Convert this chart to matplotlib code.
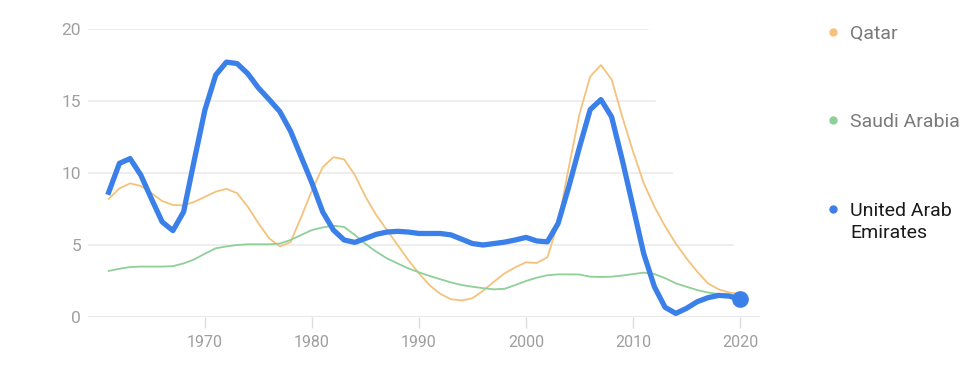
import matplotlib
matplotlib.use("Agg")
import matplotlib.pyplot as plt
from matplotlib.lines import Line2D

plt.rcParams['font.family'] = ['Roboto', 'DejaVu Sans']

years = list(range(1961, 2021))

qatar = [8.2, 8.93, 9.28, 9.1, 8.6, 8.05, 7.78, 7.75, 8.0, 8.35,
         8.7, 8.9, 8.6, 7.66, 6.5, 5.46, 4.9, 5.2, 6.96, 8.8,
         10.4, 11.1, 10.95, 9.86, 8.35, 7.08, 6.04, 5.0, 3.96, 3.03,
         2.2, 1.6, 1.23, 1.15, 1.3, 1.83, 2.45, 3.03, 3.45, 3.8,
         3.75, 4.15, 6.5, 10.4, 14.1, 16.7, 17.5, 16.5, 13.9, 11.5,
         9.3, 7.66, 6.3, 5.1, 4.07, 3.15, 2.34, 1.92, 1.7, 1.6]

saudi = [3.2, 3.35, 3.47, 3.5, 3.5, 3.5, 3.53, 3.72, 4.0, 4.4,
         4.77, 4.9, 5.0, 5.05, 5.05, 5.05, 5.1, 5.35, 5.7, 6.04,
         6.22, 6.34, 6.25, 5.7, 5.07, 4.54, 4.07, 3.72, 3.38, 3.1,
         2.85, 2.62, 2.4, 2.22, 2.1, 2.0, 1.92, 1.96, 2.22, 2.5,
         2.73, 2.9, 2.96, 2.96, 2.95, 2.8, 2.78, 2.8, 2.88, 2.98,
         3.08, 2.98, 2.7, 2.34, 2.1, 1.87, 1.7, 1.6, 1.55, 1.41]

uae = [8.66, 10.67, 11.0, 9.86, 8.2, 6.6, 6.0, 7.3, 10.9, 14.4,
       16.8, 17.7, 17.6, 16.9, 15.9, 15.1, 14.26, 12.9, 11.1, 9.3,
       7.3, 6.04, 5.35, 5.18, 5.46, 5.74, 5.9, 5.95, 5.9, 5.8,
       5.8, 5.8, 5.7, 5.4, 5.1, 5.0, 5.1, 5.2, 5.35, 5.53,
       5.28, 5.22, 6.5, 9.05, 11.8, 14.4, 15.1, 13.9, 10.9, 7.66,
       4.4, 2.1, 0.67, 0.25, 0.6, 1.06, 1.34, 1.5, 1.45, 1.23]

series_names = ["Qatar", "Saudi Arabia", "United Arab\nEmirates"]
colors = ["#f5c27c", "#8fcf98", "#3b80e9"]
x_ticks = [1970, 1980, 1990, 2000, 2010, 2020]
y_ticks = [0, 5, 10, 15, 20]

W, H = 980, 386
fig = plt.figure(figsize=(9.8, 3.86), dpi=100)
ax = fig.add_axes([88 / W, 1 - 317 / H, (760 - 88) / W, (317 - 29) / H])

ax.set_xlim(1960 - 10 / 10.7, 1960 + 662 / 10.7)
ax.set_ylim(0, 20)

# gridlines (fade out to the right as in reference)
grid_ends = {20: 2011.4, 15: 2012.1, 10: 2013.6, 5: 2019.3}
x0, x1 = ax.get_xlim()
for yv, xe in grid_ends.items():
    ax.axhline(yv, xmin=0, xmax=(xe - x0) / (x1 - x0), color="#ebebeb", lw=1.2, zorder=0)
ax.axhline(0, color="#e3e3e3", lw=1.2, zorder=0)

ax.plot(years, qatar, color=colors[0], lw=1.3, zorder=2)
ax.plot(years, saudi, color=colors[1], lw=1.3, zorder=2)
ax.plot(years, uae, color=colors[2], lw=3.8, zorder=3, solid_joinstyle="round")
ax.plot([years[-1]], [uae[-1]], 'o', color=colors[2], ms=11, zorder=4, clip_on=False)

for s in ax.spines.values():
    s.set_visible(False)

ax.set_xticks(x_ticks)
ax.set_xticklabels([str(t) for t in x_ticks])
ax.set_yticks(y_ticks)
ax.set_yticklabels([str(t) for t in y_ticks])
ax.tick_params(axis='x', length=8, width=1, color="#dcdcdc", labelcolor="#9e9e9e",
               labelsize=11.5, pad=5)
ax.tick_params(axis='y', length=0, labelsize=12.5, labelcolor="#a0a0a0", pad=5)

# legend
leg_y = [32, 120, 209]
text_colors = ["#7a7a7a", "#7a7a7a", "#1a1a1a"]
for name, c, yy, tc in zip(series_names, colors, leg_y, text_colors):
    fig.add_artist(Line2D([833 / W], [1 - yy / H], marker='o', color=c, ms=5,
                          transform=fig.transFigure, linestyle='none'))
    fig.text(850 / W, 1 - (yy - 7) / H, name, fontsize=14, color=tc,
             va='top', ha='left', linespacing=1.3)

fig.savefig("out.png", dpi=100)
